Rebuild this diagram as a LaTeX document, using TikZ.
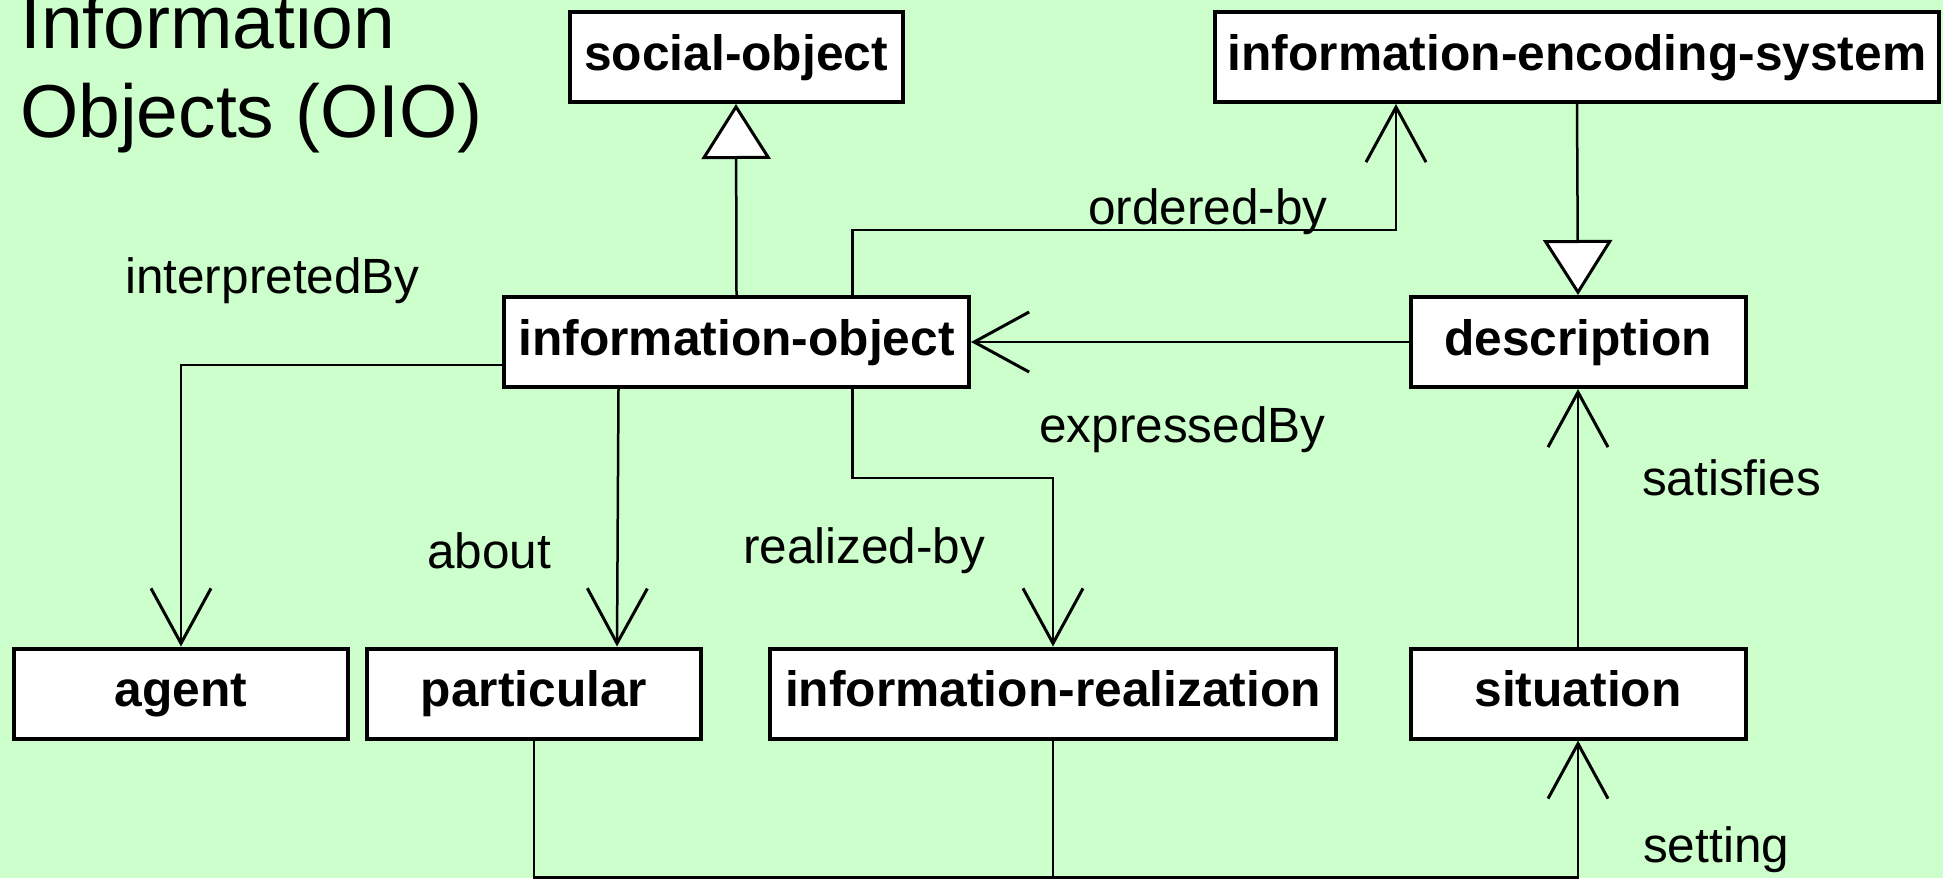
\documentclass[tikz,border=0pt]{standalone}
\usepackage{fontspec}
\setmainfont{Liberation Sans}
\usetikzlibrary{arrows.meta}
\definecolor{bgc}{HTML}{CCFFCC}

\begin{document}
\begin{tikzpicture}
  [x=1pt, y=-1pt,
   box/.style={draw, fill=white, line width=4pt, minimum height=90pt, inner sep=0pt,
     text height=36pt, text depth=10pt,
     font=\bfseries\fontsize{49.7}{56}\selectfont},
   edge/.style={line width=2.5pt, black},
   rel/.style={edge, -{Straight Barb[length=55pt, width=60pt, line width=3pt]}},
   isa/.style={edge, -{Triangle[length=55pt, width=69pt, fill=white, line width=3pt]}},
   lab/.style={anchor=base west, inner sep=0pt, font=\fontsize{49.5}{56}\selectfont},
   ttl/.style={anchor=base west, inner sep=0pt, font=\fontsize{75}{88}\selectfont}]

  \fill[bgc] (0,0) rectangle (1943,878);
  \useasboundingbox (0,0) rectangle (1943,878);

  \node[ttl] (t1) at (20,48) {Information};
  \node[ttl] (t2) at (20,137) {Objects (OIO)};

  \node[box, minimum width=333pt] (so) at (736,57) {social-object};
  \node[box, minimum width=724pt] (ies) at (1577,57) {information-encoding-system};
  \node[box, minimum width=465pt] (io) at (736.5,342) {information-object};
  \node[box, minimum width=335pt] (de) at (1578,342) {description};
  \node[box, minimum width=334pt] (ag) at (181,693.5) {agent};
  \node[box, minimum width=334pt] (pa) at (534,693.5) {particular};
  \node[box, minimum width=566pt] (ir) at (1053,693.5) {information-realization};
  \node[box, minimum width=335pt] (si) at (1578,693.5) {situation};

  % generalizations
  \draw[isa] (io.north) -- (so.south);
  \draw[isa] (ies.south) -- (de.north);

  % associations
  \draw[rel] ([xshift=116pt]io.north) -- ++(0,-65) -| ([xshift=-181pt]ies.south);
  \draw[rel] (de.west) -- (io.east);
  \draw[rel] ([yshift=-23pt]io.west) -| (ag.north);
  \draw[rel] ([xshift=-118pt]io.south) -- ([xshift=83pt]pa.north);
  \draw[rel] ([xshift=116pt]io.south) -- ++(0,89) -| (ir.north);
  \draw[rel] (si.north) -- (de.south);
  \draw[rel] (pa.south) -- ++(0,137) coordinate (bt) -| (si.south);
  \draw[edge] (ir.south) -- (ir.south |- bt);

  \node[lab] (l1) at (125,293) {interpretedBy};
  \node[lab] (l2) at (1088,224) {ordered-by};
  \node[lab] (l3) at (1039,442) {expressedBy};
  \node[lab] (l4) at (427,568) {about};
  \node[lab] (l5) at (743,563) {realized-by};
  \node[lab] (l6) at (1642,495) {satisfies};
  \node[lab] (l7) at (1643,862) {setting};

\end{tikzpicture}
\end{document}
